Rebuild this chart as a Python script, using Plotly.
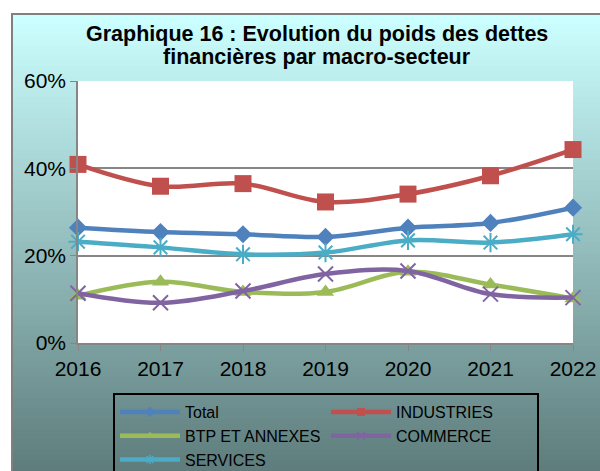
import plotly.graph_objects as go

years = [2016, 2017, 2018, 2019, 2020, 2021, 2022]
total = [26.4, 25.4, 24.9, 24.3, 26.4, 27.5, 31.0]
industries = [40.9, 35.9, 36.5, 32.3, 34.1, 38.3, 44.3]
btp = [10.8, 14.0, 11.7, 11.7, 16.3, 13.4, 10.2]
commerce = [11.4, 9.2, 11.9, 15.8, 16.5, 11.2, 10.4]
services = [23.2, 21.9, 20.3, 20.7, 23.5, 23.0, 24.9]
y_ticks = [0, 20, 40, 60]
y_labels = ["0%", "20%", "40%", "60%"]

W, H = 600, 471
L, R, T, B = 78, 27, 81, 128
PW, PH = W - L - R, H - T - B


def px_x(p):
    return (p - L) / PW


def px_y(p):
    return (H - B - p) / PH


series = [
    ("Total", total, "#4F81BD", "diamond", 14, 0, 8),
    ("INDUSTRIES", industries, "#C0504D", "square", 17, 0, 8),
    ("BTP ET ANNEXES", btp, "#9BBB59", "triangle-up", 15, 0, 8),
    ("COMMERCE", commerce, "#8064A2", "x-thin-open", 15, 2, 8),
    ("SERVICES", services, "#4BACC6", "asterisk-open", 16, 2, 8),
]

fig = go.Figure()
for name, vals, col, sym, size, lw, lsize in series:
    fig.add_trace(go.Scatter(
        x=years, y=vals, name=name, mode="lines+markers",
        line=dict(color=col, width=4.5, shape="spline"),
        marker=dict(symbol=sym, size=size, color=col,
                    line=dict(color=col, width=lw)),
        cliponaxis=False, showlegend=False, legendgroup=name,
    ))
for name, vals, col, sym, size, lw, lsize in series:
    fig.add_trace(go.Scatter(
        x=[None], y=[None], name=name, mode="lines+markers",
        line=dict(color=col, width=4.5),
        marker=dict(symbol=sym, size=lsize, color=col,
                    line=dict(color=col, width=min(lw, 1.5))),
        showlegend=True, legendgroup=name,
    ))

# gradient background
shapes = []
top, bot = 14, H + 10
n = 90
c0 = (204, 255, 255)
c1 = (92, 122, 122)
for i in range(n):
    t = i / (n - 1)
    col = tuple(round(c0[k] + (c1[k] - c0[k]) * t) for k in range(3))
    y0 = top + (bot - top) * i / n
    y1 = top + (bot - top) * (i + 1) / n + 1.5
    shapes.append(dict(type="rect", xref="paper", yref="paper",
                       x0=px_x(12), x1=px_x(W + 10), y0=px_y(y0), y1=px_y(y1),
                       line=dict(width=0), fillcolor="rgb(%d,%d,%d)" % col,
                       layer="below"))
# outer border
shapes.append(dict(type="rect", xref="paper", yref="paper",
                   x0=px_x(12), x1=px_x(W + 20), y0=px_y(14), y1=px_y(H + 20),
                   line=dict(width=2, color="#808080"), fillcolor="rgba(0,0,0,0)",
                   layer="below"))
# white plot area
shapes.append(dict(type="rect", xref="paper", yref="paper",
                   x0=0, x1=1, y0=0, y1=1, line=dict(width=0),
                   fillcolor="white", layer="below"))

fig.update_layout(
    width=W, height=H,
    margin=dict(l=L, r=R, t=T, b=B, autoexpand=False),
    paper_bgcolor="white",
    plot_bgcolor="rgba(0,0,0,0)",
    font=dict(family="Liberation Sans, Arial, sans-serif", color="black"),
    shapes=shapes,
    showlegend=True,
    legend=dict(
        orientation="h", x=px_x(113), y=px_y(393), xanchor="left", yanchor="top",
        bgcolor="rgba(0,0,0,0)", bordercolor="black", borderwidth=2,
        font=dict(size=16), entrywidth=136, entrywidthmode="pixels",
        itemwidth=60, traceorder="normal",
    ),
    annotations=[
        dict(text="<b>Graphique 16 : Evolution du poids des dettes</b>",
             xref="paper", yref="paper", x=px_x(317), y=px_y(34),
             xanchor="center", yanchor="middle", showarrow=False,
             font=dict(size=21.5)),
        dict(text="<b>financières par macro-secteur</b>",
             xref="paper", yref="paper", x=px_x(317), y=px_y(57),
             xanchor="center", yanchor="middle", showarrow=False,
             font=dict(size=21.5)),
    ],
)
fig.update_xaxes(range=[2016, 2022], tickvals=years, ticktext=[str(y) for y in years],
                 showgrid=False, showline=True, linecolor="#868686", linewidth=1.5,
                 ticks="outside", ticklen=6, tickcolor="#868686",
                 tickfont=dict(size=21), zeroline=False)
fig.update_yaxes(range=[0, 60], tickvals=y_ticks, ticktext=y_labels,
                 showgrid=True, gridcolor="#868686", gridwidth=1.5,
                 showline=True, linecolor="#868686", linewidth=1.5,
                 ticks="outside", ticklen=6, tickcolor="#868686",
                 tickfont=dict(size=21), zeroline=False)

fig.write_html("out.html", config={"displayModeBar": False},
               post_script="document.body.style.margin='0';document.body.style.overflow='hidden';")
